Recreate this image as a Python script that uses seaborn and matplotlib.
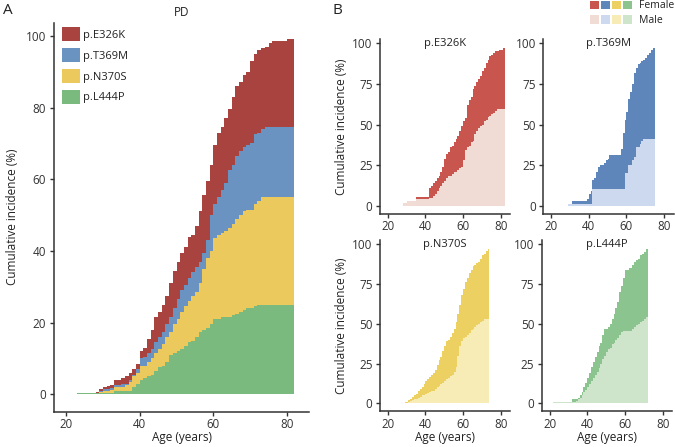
import numpy as np
import seaborn as sns
import matplotlib
matplotlib.use("Agg")
import matplotlib.pyplot as plt
from matplotlib.patches import Patch
from matplotlib.legend_handler import HandlerTuple

# ---- Panel A: stacked cumulative incidence (top of each stacked layer) ----
ages_a = np.arange(23, 82)
end_a = 82
stack_l444p = [0.5, 0.5, 0.5, 0.5, 0.5, 0.5, 0.5, 0.5, 0.5, 0.5,
               0.8, 0.8, 1, 1, 1, 2, 3, 4, 4.5, 5,
               5.5, 6.5, 7.5, 8, 9, 11, 11.5, 12, 12.5, 13.5,
               14.5, 15, 16, 17.5, 18, 18.5, 19.5, 21, 21, 21.5,
               21.5, 21.5, 22, 22.5, 23, 23.5, 24, 24, 24.5, 25,
               25, 25, 25, 25, 25, 25, 25, 25, 25]
stack_n370s = [0.5, 0.5, 0.5, 0.5, 0.5, 0.5, 0.7, 1, 1, 1.2,
               2, 2, 2, 2.5, 3.5, 5, 6, 8, 8, 9,
               10, 11.5, 12.5, 14, 16, 17.5, 19.5, 21, 23, 24.5,
               26, 27.5, 28.5, 31, 35, 38, 40, 43.5, 44.5, 45,
               45.5, 46.5, 47.5, 49, 50, 51, 51.5, 51.5, 53, 54,
               55, 55, 55, 55, 55, 55, 55, 55, 55]
stack_t369m = [0.5, 0.5, 0.5, 0.5, 0.5, 0.5, 1, 1.5, 1.5, 1.8,
               2.5, 2.5, 2.8, 3, 4, 5.5, 7, 10, 10.5, 11.5,
               12.5, 14.5, 16, 17.5, 19.5, 21.5, 24, 26.5, 29, 30.5,
               32.5, 34, 35.5, 37, 39.5, 43, 50, 53, 55, 57,
               59, 62.5, 64, 66.5, 68, 69, 69.5, 70, 72.5, 73,
               74, 74.5, 74.5, 74.5, 74.5, 74.5, 74.5, 74.5, 74.5]
stack_e326k = [0.5, 0.5, 0.5, 0.5, 0.5, 0.7, 1.5, 2, 2.2, 2.5,
               4, 4, 4.5, 5, 6, 7, 8.5, 12, 13, 15.5,
               18, 21.5, 23, 25, 27.5, 31, 34.5, 37, 39.5, 41,
               44, 44.5, 47, 51, 55.5, 59.5, 64, 69.5, 73, 74.5,
               77, 79.5, 83, 86, 87, 89, 90, 93, 95, 96,
               96.5, 97, 98, 98.5, 98.5, 98.5, 98.5, 99, 99]

mutations = ["p.E326K", "p.T369M", "p.N370S", "p.L444P"]
colors_a = ["#a9433f", "#6a93c2", "#ebc95c", "#7aba7e"]

# ---- Panel B: by sex (male = bottom, female stacked on top) ----
ages_e326k = np.arange(28, 82)
male_e326k = [1.5, 1.5, 3, 3, 3, 3, 3, 4, 4, 4,
              4, 4, 4, 4, 5, 5, 6, 7, 9, 11,
              12, 14, 15, 17, 18, 18.5, 19.5, 20.5, 21, 22,
              23.5, 24, 28, 34, 36, 37, 39, 40, 44, 46,
              48, 49, 50, 52, 53, 54.5, 55, 56.5, 57, 58.5,
              59.5, 59.5, 59.5, 59.5]
female_e326k = [1.5, 1.5, 3, 3, 3, 3, 3, 5.5, 5.5, 5.5,
                5.5, 5.5, 5.5, 5.5, 11, 12, 14, 15, 17, 18.5,
                21, 24, 29, 32, 33, 36, 37, 39, 41, 43,
                46, 49, 52, 54, 62, 65, 67, 72, 74, 76,
                78, 80, 83, 85, 88, 90, 92, 93, 94, 95,
                95, 96, 96, 97]

ages_t369m = np.arange(29, 75)
male_t369m = [1, 1, 1, 1, 1, 1, 1, 1, 1, 1,
              1, 1, 1, 10, 10, 10, 10, 10, 10, 10,
              10, 10, 10, 10, 10, 10, 10, 10, 10, 10,
              20, 20, 25, 25, 28, 30, 36, 36, 38, 40,
              41, 41, 41, 41, 41, 41]
female_t369m = [1, 1, 3, 3, 3, 3, 3, 3, 3, 3,
                4, 7, 9, 16, 17, 21, 24, 25, 25, 26,
                28, 29, 31, 31, 31, 31, 31, 31, 35, 45,
                53, 58, 66, 70, 75, 82, 85, 87, 88, 89,
                90, 91, 93, 94, 96, 97]

ages_n370s = np.arange(29, 74)
male_n370s = [0.5, 0.5, 1, 1.5, 2, 2.5, 3, 3.5, 4, 5,
              5.5, 6, 6.5, 7, 7.5, 8, 9, 10, 11, 12,
              13, 14, 15, 16, 17, 18, 20, 23, 30, 36,
              39, 41, 42, 43, 44, 46, 47, 48, 49, 50,
              51, 52, 53, 53, 53]
female_n370s = [1, 1, 2, 3, 4, 5, 6, 7.5, 9, 10,
                12, 14, 15, 16.5, 18, 19, 21, 24, 27, 29,
                33, 36, 39, 40, 42, 44, 47, 51, 56, 62,
                68, 72, 76, 79, 82, 84, 86, 87, 88, 89,
                91, 93, 94, 96, 97]

ages_l444p = np.arange(22, 72)
male_l444p = [0.6, 0.6, 0.6, 0.6, 0.6, 0.6, 0.6, 0.6, 0.6, 0.6,
              1, 1, 1.5, 2.5, 3.5, 5, 7, 8.5, 10, 12,
              14, 16, 18, 20, 22, 25, 28, 30, 32, 34,
              35, 37, 38, 40, 41, 43, 45, 45.5, 45.5, 45.5,
              45.5, 45.5, 47, 48, 49, 50, 51, 52, 53, 54]
female_l444p = [0.6, 0.6, 0.6, 0.6, 0.6, 0.6, 0.6, 0.6, 0.6, 0.6,
                2.5, 2.5, 3, 3.5, 5, 7, 10, 13, 16, 19,
                23, 26, 29, 32, 36, 38, 43, 47, 47, 48,
                50, 53, 56, 60, 64, 70, 74, 79, 84, 84,
                85, 85, 87, 89, 90, 91, 93, 94, 95, 97]

female_colors = ["#c8564f", "#5f86ba", "#ecd062", "#8cc48f"]
male_colors = ["#f0dcd5", "#ccd9ef", "#f7ecb5", "#cfe5cb"]

sns.set_theme(style="ticks")
plt.rcParams["font.family"] = ["Open Sans", "DejaVu Sans"]
plt.rcParams.update({
    "axes.edgecolor": "#333333", "axes.linewidth": 1.1,
    "xtick.color": "#333333", "ytick.color": "#333333",
    "xtick.labelcolor": "#333333", "ytick.labelcolor": "#333333",
    "xtick.major.size": 3, "ytick.major.size": 3,
    "xtick.major.pad": 1.5, "ytick.major.pad": 2.5,
    "xtick.major.width": 1.0, "ytick.major.width": 1.0,
    "xtick.labelsize": 8.3, "ytick.labelsize": 8.5,
    "axes.labelsize": 8.5, "axes.labelcolor": "#222222",
    "text.color": "#222222",
})

W, H = 675, 447
fig = plt.figure(figsize=(W / 100, H / 100), dpi=100)


def px_box(left, top, right, bottom):
    return [left / W, 1 - bottom / H, (right - left) / W, (bottom - top) / H]


def steps(ages, vals, end):
    return np.append(ages, end), np.append(vals, vals[-1])


# ---------------- Panel A ----------------
ax = fig.add_axes(px_box(54, 22.6, 309, 411.5))
x, top_e = steps(ages_a, stack_e326k, end_a)
_, top_t = steps(ages_a, stack_t369m, end_a)
_, top_n = steps(ages_a, stack_n370s, end_a)
_, top_l = steps(ages_a, stack_l444p, end_a)
ax.fill_between(x, 0, top_l, step="post", color=colors_a[3], lw=0)
ax.fill_between(x, top_l, top_n, step="post", color=colors_a[2], lw=0)
ax.fill_between(x, top_n, top_t, step="post", color=colors_a[1], lw=0)
ax.fill_between(x, top_t, top_e, step="post", color=colors_a[0], lw=0)
ax.set_xlim(16.7, 86)
ax.set_ylim(-4.8, 103.7)
ax.set_xticks([20, 40, 60, 80])
ax.set_yticks([0, 20, 40, 60, 80, 100])
ax.set_xlabel("Age (years)", labelpad=0)
ax.set_ylabel("Cumulative incidence (%)", labelpad=5)
ax.set_title("PD", fontsize=8.5, pad=5)
sns.despine(ax=ax)

handles = [Patch(facecolor=c, edgecolor="none") for c in colors_a]
ax.legend(handles, mutations, loc="upper left",
          bbox_to_anchor=(62 / W, 1 - 27 / H), bbox_transform=fig.transFigure,
          frameon=False, fontsize=8, borderpad=0, borderaxespad=0,
          handlelength=1.62, handleheight=1.62, labelspacing=0.58,
          handletextpad=0.3)

# ---------------- Panel B ----------------
panel_b = [
    (ages_e326k, male_e326k, female_e326k, 82, 387.7, 205.7, 0),
    (ages_t369m, male_t369m, female_t369m, 75, 551.0, 205.7, 0),
    (ages_n370s, male_n370s, female_n370s, 74, 387.7, 406.7, 3.5),
    (ages_l444p, male_l444p, female_l444p, 72, 549.5, 406.7, 3.5),
]
pxx, pxy = 1.885, 1.624
for i, (ages, male, female, end, x20, y0, lift) in enumerate(panel_b):
    bx = fig.add_axes(px_box(x20 - 4 * pxx, y0 - 102.5 * pxy,
                             x20 + 65 * pxx, y0 + 5.1 * pxy - lift))
    xs, m = steps(ages, male, end)
    _, f = steps(ages, female, end)
    bx.fill_between(xs, 0, m, step="post", color=male_colors[i], lw=0)
    bx.fill_between(xs, m, f, step="post", color=female_colors[i], lw=0)
    bx.set_xlim(16, 85)
    bx.set_ylim(-5.1, 102.5)
    bx.set_xticks([20, 40, 60, 80])
    bx.set_yticks([0, 25, 50, 75, 100])
    bx.text(50.3, 100, mutations[i], ha="center", va="center", fontsize=8)
    if i % 2 == 0:
        bx.set_ylabel("Cumulative incidence (%)", labelpad=3)
    if i >= 2:
        bx.set_xlabel("Age (years)", labelpad=0)
    sns.despine(ax=bx)

fem_h = tuple(Patch(facecolor=c, edgecolor="none") for c in female_colors)
male_h = tuple(Patch(facecolor=c, edgecolor="none") for c in male_colors)
fig.legend([fem_h, male_h], ["Female", "Male"], loc="upper left",
           bbox_to_anchor=(589.5 / W, 1 - 0.5 / H),
           handler_map={tuple: HandlerTuple(ndivide=None, pad=0.15)},
           frameon=False, fontsize=7.5, borderpad=0, borderaxespad=0,
           handlelength=4.1, handleheight=0.92, labelspacing=0.38,
           handletextpad=0.7)

fig.text(3 / W, 1 - 11 / H, "A", fontsize=11, va="center", ha="left")
fig.text(333 / W, 1 - 11 / H, "B", fontsize=11, va="center", ha="left")

fig.savefig("out.png", dpi=100)
